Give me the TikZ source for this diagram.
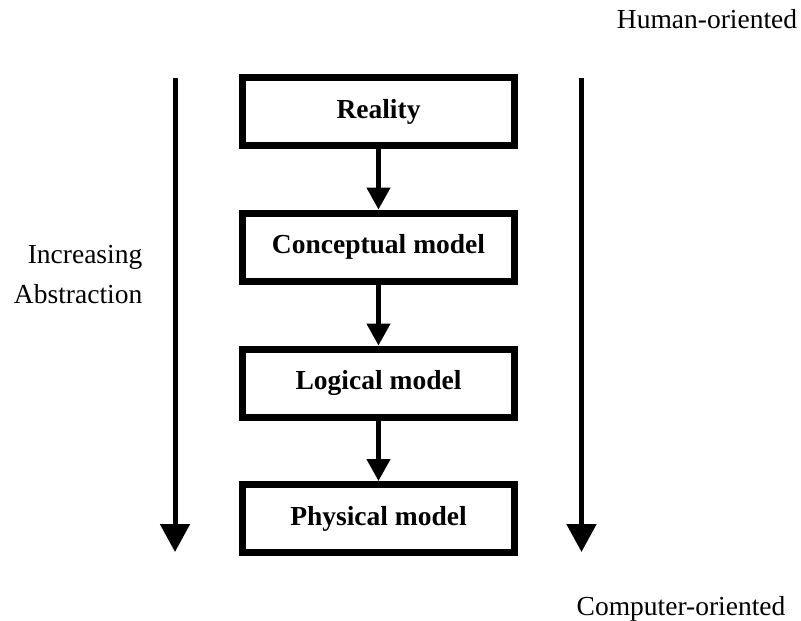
\documentclass[tikz,border=0pt]{standalone}
\usepackage{fontspec}
\setmainfont{Liberation Serif}
\usetikzlibrary{arrows.meta}
\newcommand\fs{\fontsize{27.5}{33}\selectfont}

\begin{document}
\begin{tikzpicture}[x=1pt,y=-1pt,
 box/.style={draw,line width=7pt,minimum width=272pt,minimum height=68pt,inner sep=0pt,font=\fs\bfseries},
 txt/.style={font=\fs,inner sep=0pt},
 small/.style={line width=4.5pt,-{Triangle[width=23pt,length=22pt]}},
 big/.style={line width=5pt,-{Triangle[width=29pt,length=28pt]}}]
\useasboundingbox (0,0) rectangle (801,621);
\foreach\n/\y/\t in {real/111.5/Reality,conc/247/Conceptual model,logi/383/Logical model,phys/518.5/Physical model}
 \node[box] (\n) at (378.5,\y) {\t};
\foreach\a/\b in {real/conc,conc/logi,logi/phys}
 \draw[small] (\a)--(\b);
\coordinate (lt) at (175,78);
\coordinate (lb) at (175,552);
\coordinate (rt) at (581.5,78);
\coordinate (rb) at (581.5,552);
\draw[big] (lt)--(lb);
\draw[big] (rt)--(rb);
\node[txt,anchor=base east] (inc) at (142.5,263) {Increasing};
\node[txt,anchor=base east] (abs) at (142.5,303) {Abstraction};
\node[txt,anchor=base] (hum) at (707,28) {Human-oriented};
\node[txt,anchor=base] (com) at (681,615) {Computer-oriented};
\end{tikzpicture}
\end{document}
